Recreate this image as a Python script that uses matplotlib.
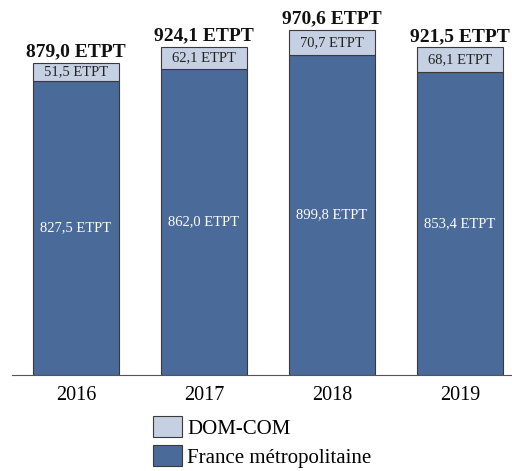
import matplotlib.pyplot as plt
import numpy as np

# Effectifs (ETPT) par année
years = ["2016", "2017", "2018", "2019"]
metropole = [827.5, 862.0, 899.8, 853.4]
dom_com = [51.5, 62.1, 70.7, 68.1]
totals = [879.0, 924.1, 970.6, 921.5]

dark_blue = "#4a6a9a"
light_blue = "#c5d0e2"
edge = "#3a3a3a"

plt.rcParams["font.family"] = ["Liberation Serif", "DejaVu Serif"]

fig = plt.figure(figsize=(5.12, 4.71), dpi=100)
ax = fig.add_axes([12 / 512, 96 / 471, 500 / 512, 355.4 / 471])

x = np.arange(len(years))
w = 0.67
b1 = ax.bar(x, metropole, w, color=dark_blue, edgecolor=edge, linewidth=0.8,
            label="France métropolitaine")
b2 = ax.bar(x, dom_com, w, bottom=metropole, color=light_blue, edgecolor=edge,
            linewidth=0.8, label="DOM-COM")

def fmt(v):
    return f"{v:.1f}".replace(".", ",") + " ETPT"

for i in range(len(years)):
    ax.text(x[i], metropole[i] / 2, fmt(metropole[i]), ha="center", va="center",
            color="white", fontsize=10.5)
    ax.text(x[i], metropole[i] + dom_com[i] / 2, fmt(dom_com[i]), ha="center",
            va="center", color="#222222", fontsize=10.5)
    ax.text(x[i], totals[i] + 7, fmt(totals[i]), ha="center", va="bottom",
            color="#111111", fontsize=14, fontweight="bold")

ax.set_xlim(-0.5, -0.5 + 500 / 128)
ax.set_ylim(0, 1000)
ax.set_xticks(x)
ax.set_xticklabels(years, fontsize=14.5)
ax.tick_params(axis="x", length=0, pad=8)
ax.set_yticks([])
for s in ["top", "right", "left"]:
    ax.spines[s].set_visible(False)
ax.spines["bottom"].set_color("#555555")

fig.legend(handles=[b2, b1], loc="upper left", bbox_to_anchor=(153 / 512, 1 - 416 / 471),
           frameon=False, fontsize=15, handlelength=1.4, handleheight=1.2,
           handletextpad=0.25, labelspacing=0.3, borderaxespad=0, borderpad=0)

fig.savefig("out.png", dpi=100)
